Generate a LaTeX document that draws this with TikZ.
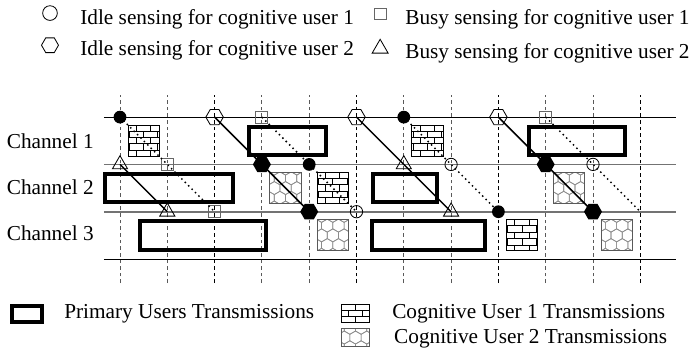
\documentclass[tikz,border=0pt]{standalone}
\usepackage{fontspec}
\setmainfont{Liberation Serif}
\usetikzlibrary{shapes.geometric}

\begin{document}
\begin{tikzpicture}[
chan/.style={font=\fontsize{12.8}{15}\selectfont, inner sep=0pt, anchor=base west},
idleone/.style={circle, draw=black, line width=0.5pt, minimum size=0.26cm, inner sep=0pt},
senseone/.style={circle, fill=black, minimum size=0.27cm, inner sep=0pt},
busyone/.style={rectangle, draw=black!60, line width=0.6pt, minimum size=0.25cm, inner sep=0pt},
idletwo/.style={regular polygon, regular polygon sides=6, draw=black, line width=0.5pt, minimum size=0.37cm, inner sep=0pt},
sensetwo/.style={regular polygon, regular polygon sides=6, fill=black, minimum size=0.38cm, inner sep=0pt},
busytwo/.style={regular polygon, regular polygon sides=3, draw=black, line width=0.5pt, minimum size=0.37cm, inner sep=0pt},
primary/.style={rectangle, draw=black, line width=2.4pt, minimum height=0.6cm, inner sep=0pt},
cogone/.style={rectangle, draw=black, line width=0.6pt, minimum size=0.66cm, inner sep=0pt,
  path picture={\begin{scope}[shift={(path picture bounding box.center)}, line width=0.6pt]
    \foreach \r in {-0.204,-0.068,0.068,0.204} \draw (-0.5,\r) -- (0.5,\r);
    \foreach \r in {-2,0,2} \foreach \j in {-0.15,0.15} \draw (\j,\r*0.136-0.068) -- (\j,\r*0.136+0.068);
    \foreach \r in {-1,1} \foreach \j in {-0.3,0,0.3} \draw (\j,\r*0.136-0.068) -- (\j,\r*0.136+0.068);
  \end{scope}}},
cogtwo/.style={rectangle, draw=black!65, line width=0.6pt, minimum size=0.66cm, inner sep=0pt,
  path picture={\begin{scope}[shift={(path picture bounding box.center)}, draw=black!45, line width=0.4pt]
    \foreach \r in {-2,...,2} \foreach \c in {-2,...,2} {
      \pgfmathsetmacro{\hx}{(\c+0.5*mod(abs(\r),2))*0.238}
      \draw (\hx,\r*0.206) +(90:0.137) -- +(150:0.137) -- +(210:0.137) -- +(270:0.137) -- +(330:0.137) -- +(30:0.137) -- cycle;
    }
  \end{scope}}},
hopone/.style={dotted, line width=0.9pt},
hoptwo/.style={line width=0.9pt},
]
\useasboundingbox (-2.537,-1.903) rectangle (12.220,5.476);

%Grid
\foreach \i in {0,1,3,4,6,7,9,10}
  \draw[black!65, line width=0.6pt, dash pattern=on 2.2pt off 1.8pt] (\i,-0.51) -- (\i,3.47);
\foreach \i in {2,5,8,11}
  \draw[black, line width=0.6pt, dash pattern=on 2.2pt off 1.8pt] (\i,-0.51) -- (\i,3.47);
\draw[black, line width=0.6pt] (-0.34,3) -- (11.76,3);
\draw[black!55, line width=1pt] (-0.34,2) -- (11.76,2);
\draw[black!55, line width=1pt] (-0.34,1) -- (11.76,1);
\draw[black, line width=0.6pt] (-0.34,0) -- (11.76,0);

%Channels
\node[chan] (ch_1) at (-2.40,2.34) {Channel 1};
\node[chan] (ch_2) at (-2.40,1.37) {Channel 2};
\node[chan] (ch_3) at (-2.40,0.40) {Channel 3};

%Primary users
\node[primary, minimum width=1.628cm] (pu_1_a) at (3.541,2.5) {};
\node[primary, minimum width=2.030cm] (pu_1_b) at (9.662,2.5) {};
\node[primary, minimum width=2.706cm] (pu_2_a) at (1.036,1.5) {};
\node[primary, minimum width=1.353cm] (pu_2_b) at (6.026,1.5) {};
\node[primary, minimum width=2.664cm] (pu_3_a) at (1.755,0.5) {};
\node[primary, minimum width=2.389cm] (pu_3_b) at (6.523,0.5) {};

%Cognitive transmissions
\node[cogone] (tx1_a) at (0.5,2.5) {};
\node[cogone] (tx1_b) at (4.5,1.5) {};
\node[cogone] (tx1_c) at (6.5,2.5) {};
\node[cogone] (tx1_d) at (8.5,0.5) {};
\node[cogtwo] (tx2_a) at (3.5,1.5) {};
\node[cogtwo] (tx2_b) at (4.5,0.5) {};
\node[cogtwo] (tx2_c) at (9.5,1.5) {};
\node[cogtwo] (tx2_d) at (10.5,0.5) {};

%Sensing of user 1
\node[senseone] (cu1_0)  at (0,3)  {};
\node[busyone]  (cu1_1)  at (1,2)  {};
\node[busyone]  (cu1_2)  at (2,1)  {};
\node[busyone]  (cu1_3)  at (3,3)  {};
\node[senseone] (cu1_4)  at (4,2)  {};
\node[idleone]  (cu1_5)  at (5,1)  {};
\node[senseone] (cu1_6)  at (6,3)  {};
\node[idleone]  (cu1_7)  at (7,2)  {};
\node[senseone] (cu1_8)  at (8,1)  {};
\node[busyone]  (cu1_9)  at (9,3)  {};
\node[idleone]  (cu1_10) at (10,2) {};
\coordinate     (cu1_11) at (11,1);

%Sensing of user 2
\node[busytwo]  (cu2_0)  at (0,2)  {};
\node[busytwo]  (cu2_1)  at (1,1)  {};
\node[idletwo]  (cu2_2)  at (2,3)  {};
\node[sensetwo] (cu2_3)  at (3,2)  {};
\node[sensetwo] (cu2_4)  at (4,1)  {};
\node[idletwo]  (cu2_5)  at (5,3)  {};
\node[busytwo]  (cu2_6)  at (6,2)  {};
\node[busytwo]  (cu2_7)  at (7,1)  {};
\node[idletwo]  (cu2_8)  at (8,3)  {};
\node[sensetwo] (cu2_9)  at (9,2)  {};
\node[sensetwo] (cu2_10) at (10,1) {};

%Lines
\draw[hopone] (cu1_0.center) -- (cu1_1.center) -- (cu1_2.center);
\draw[hopone] (cu1_3.center) -- (cu1_4.center) -- (cu1_5.center);
\draw[hopone] (cu1_6.center) -- (cu1_7.center) -- (cu1_8.center);
\draw[hopone] (cu1_9.center) -- (cu1_10.center) -- (cu1_11);
\draw[hoptwo] (cu2_0.center) -- (cu2_1.center);
\draw[hoptwo] (cu2_2.center) -- (cu2_3.center) -- (cu2_4.center);
\draw[hoptwo] (cu2_5.center) -- (cu2_6.center) -- (cu2_7.center);
\draw[hoptwo] (cu2_8.center) -- (cu2_9.center) -- (cu2_10.center);

%Legend
\node[idleone, minimum size=0.31cm] (key_idle1) at (-1.48,5.20) {};
\node[chan] (key_idle1_txt) at (-0.846,4.95) {Idle sensing for cognitive user 1};
\node[busyone] (key_busy1) at (5.50,5.18) {};
\node[chan] (key_busy1_txt) at (6.025,4.95) {Busy sensing for cognitive user 1};
\node[idletwo, minimum size=0.36cm] (key_idle2) at (-1.48,4.52) {};
\node[chan] (key_idle2_txt) at (-0.846,4.31) {Idle sensing for cognitive user 2};
\node[busytwo, minimum size=0.39cm] (key_busy2) at (5.50,4.45) {};
\node[chan] (key_busy2_txt) at (6.025,4.23) {Busy sensing for cognitive user 2};

\node[primary, minimum width=0.634cm, minimum height=0.338cm] (key_pu) at (-1.966,-1.163) {};
\node[chan] (key_pu_txt) at (-1.184,-1.268) {Primary Users Transmissions};
\node[cogone, minimum width=0.60cm, minimum height=0.40cm] (key_tx1) at (4.979,-1.152) {};
\node[chan] (key_tx1_txt) at (5.75,-1.268) {Cognitive User 1 Transmissions};
\node[cogtwo, minimum width=0.60cm, minimum height=0.37cm] (key_tx2) at (4.979,-1.660) {};
\node[chan] (key_tx2_txt) at (5.79,-1.776) {Cognitive User 2 Transmissions};

\end{tikzpicture}
\end{document}
